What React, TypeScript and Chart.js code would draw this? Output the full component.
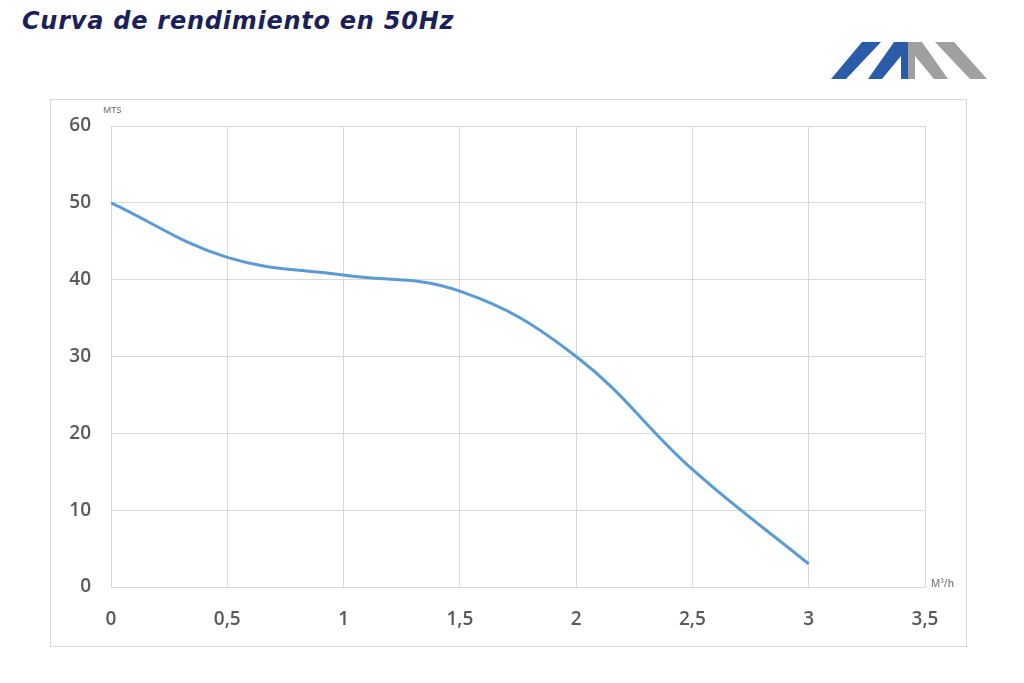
import { useEffect, useRef } from "react"
import { Chart, registerables } from "chart.js"

Chart.register(...registerables)

// flow (M³/h) and head (MTS)
const flow = [0, 0.5, 1, 1.5, 2, 2.5, 3]
const head = [50, 42.9, 40.6, 38.5, 30, 15.3, 3]

const xTicks = [0, 0.5, 1, 1.5, 2, 2.5, 3, 3.5]
const yTicks = [0, 10, 20, 30, 40, 50, 60]

const unitLabels = {
  id: "unitLabels",
  afterDraw(chart: Chart) {
    const { ctx, chartArea } = chart
    ctx.save()
    ctx.fillStyle = "#7f7f7f"
    ctx.font = "600 9px 'Open Sans'"
    ctx.textBaseline = "middle"
    ctx.textAlign = "left"
    ctx.fillText("MTS", chartArea.left - 8, chartArea.top - 16)
    ctx.font = "600 10px 'Open Sans'"
    ctx.fillText("M³/h", chartArea.right + 6, chartArea.bottom - 3)
    ctx.restore()
  },
}

export default function App() {
  const chartRef = useRef<HTMLCanvasElement>(null)
  const chartInstance = useRef<Chart | null>(null)

  useEffect(() => {
    document.body.style.margin = "0"
    if (!chartRef.current) return

    if (chartInstance.current) {
      chartInstance.current.destroy()
    }

    const ctx = chartRef.current.getContext("2d")
    if (ctx) {
      chartInstance.current = new Chart(ctx, {
        type: "line",
        data: {
          datasets: [
            {
              label: "Curva 50Hz",
              data: flow.map((x, i) => ({ x, y: head[i] })),
              borderColor: "#5b9bd5",
              borderWidth: 3,
              pointRadius: 0,
              tension: 0.4,
              fill: false,
            },
          ],
        },
        options: {
          animation: false,
          responsive: false,
          layout: { padding: { top: 26, right: 41, left: 0, bottom: 0 } },
          plugins: {
            legend: { display: false },
            tooltip: { enabled: false },
          },
          scales: {
            x: {
              type: "linear",
              min: xTicks[0],
              max: xTicks[xTicks.length - 1],
              afterBuildTicks: (scale: any) => {
                scale.ticks = xTicks.map((v) => ({ value: v }))
              },
              afterFit: (scale: any) => {
                scale.height = 59
              },
              grid: { color: "#d9d9d9", lineWidth: 1, drawTicks: false },
              border: { color: "#d9d9d9" },
              ticks: {
                padding: 21,
                color: "#595959",
                font: { family: "'Open Sans'", size: 19, weight: 600 },
                callback: (v: any) => String(v).replace(".", ","),
              },
            },
            y: {
              type: "linear",
              min: yTicks[0],
              max: yTicks[yTicks.length - 1],
              afterBuildTicks: (scale: any) => {
                scale.ticks = yTicks.map((v) => ({ value: v }))
              },
              afterFit: (scale: any) => {
                scale.width = 60
                scale.paddingTop = 0
                scale.paddingBottom = 0
              },
              grid: { color: "#d9d9d9", lineWidth: 1, drawTicks: false },
              border: { color: "#d9d9d9" },
              ticks: {
                padding: 20,
                color: "#595959",
                font: { family: "'Open Sans'", size: 19, weight: 600 },
              },
            },
          },
        },
        plugins: [unitLabels],
      })
    }

    return () => {
      if (chartInstance.current) {
        chartInstance.current.destroy()
        chartInstance.current = null
      }
    }
  }, [])

  return (
    <div style={{ position: "relative", width: 1024, height: 683, background: "#fff", overflow: "hidden" }}>
      <div
        style={{
          position: "absolute",
          left: 22,
          top: 7,
          fontFamily: "'DejaVu Sans', sans-serif",
          fontStyle: "italic",
          fontWeight: 700,
          fontSize: 24,
          letterSpacing: 0.75,
          lineHeight: "normal",
          color: "#1b1f5c",
          whiteSpace: "nowrap",
        }}
      >
        Curva de rendimiento en 50Hz
      </div>
      <svg
        style={{ position: "absolute", left: 0, top: 0 }}
        width={1024}
        height={100}
        viewBox="0 0 1024 100"
      >
        <polygon points="831,79 846,79 881,42 862,42" fill="#2a5caa" />
        <polygon points="868,79 882,79 901,56 901,79 908,79 908,42 894,42" fill="#2a5caa" />
        <polygon points="908,42 922,42 948,79 934,79 915,56 915,79 908,79" fill="#a0a0a0" />
        <polygon points="935,42 954,42 987,79 970,79" fill="#a0a0a0" />
      </svg>
      <div
        style={{
          position: "absolute",
          left: 50,
          top: 99,
          width: 917,
          height: 548,
          border: "1px solid #d9d9d9",
          boxSizing: "border-box",
        }}
      >
        <canvas ref={chartRef} width={915} height={546} />
      </div>
    </div>
  )
}
